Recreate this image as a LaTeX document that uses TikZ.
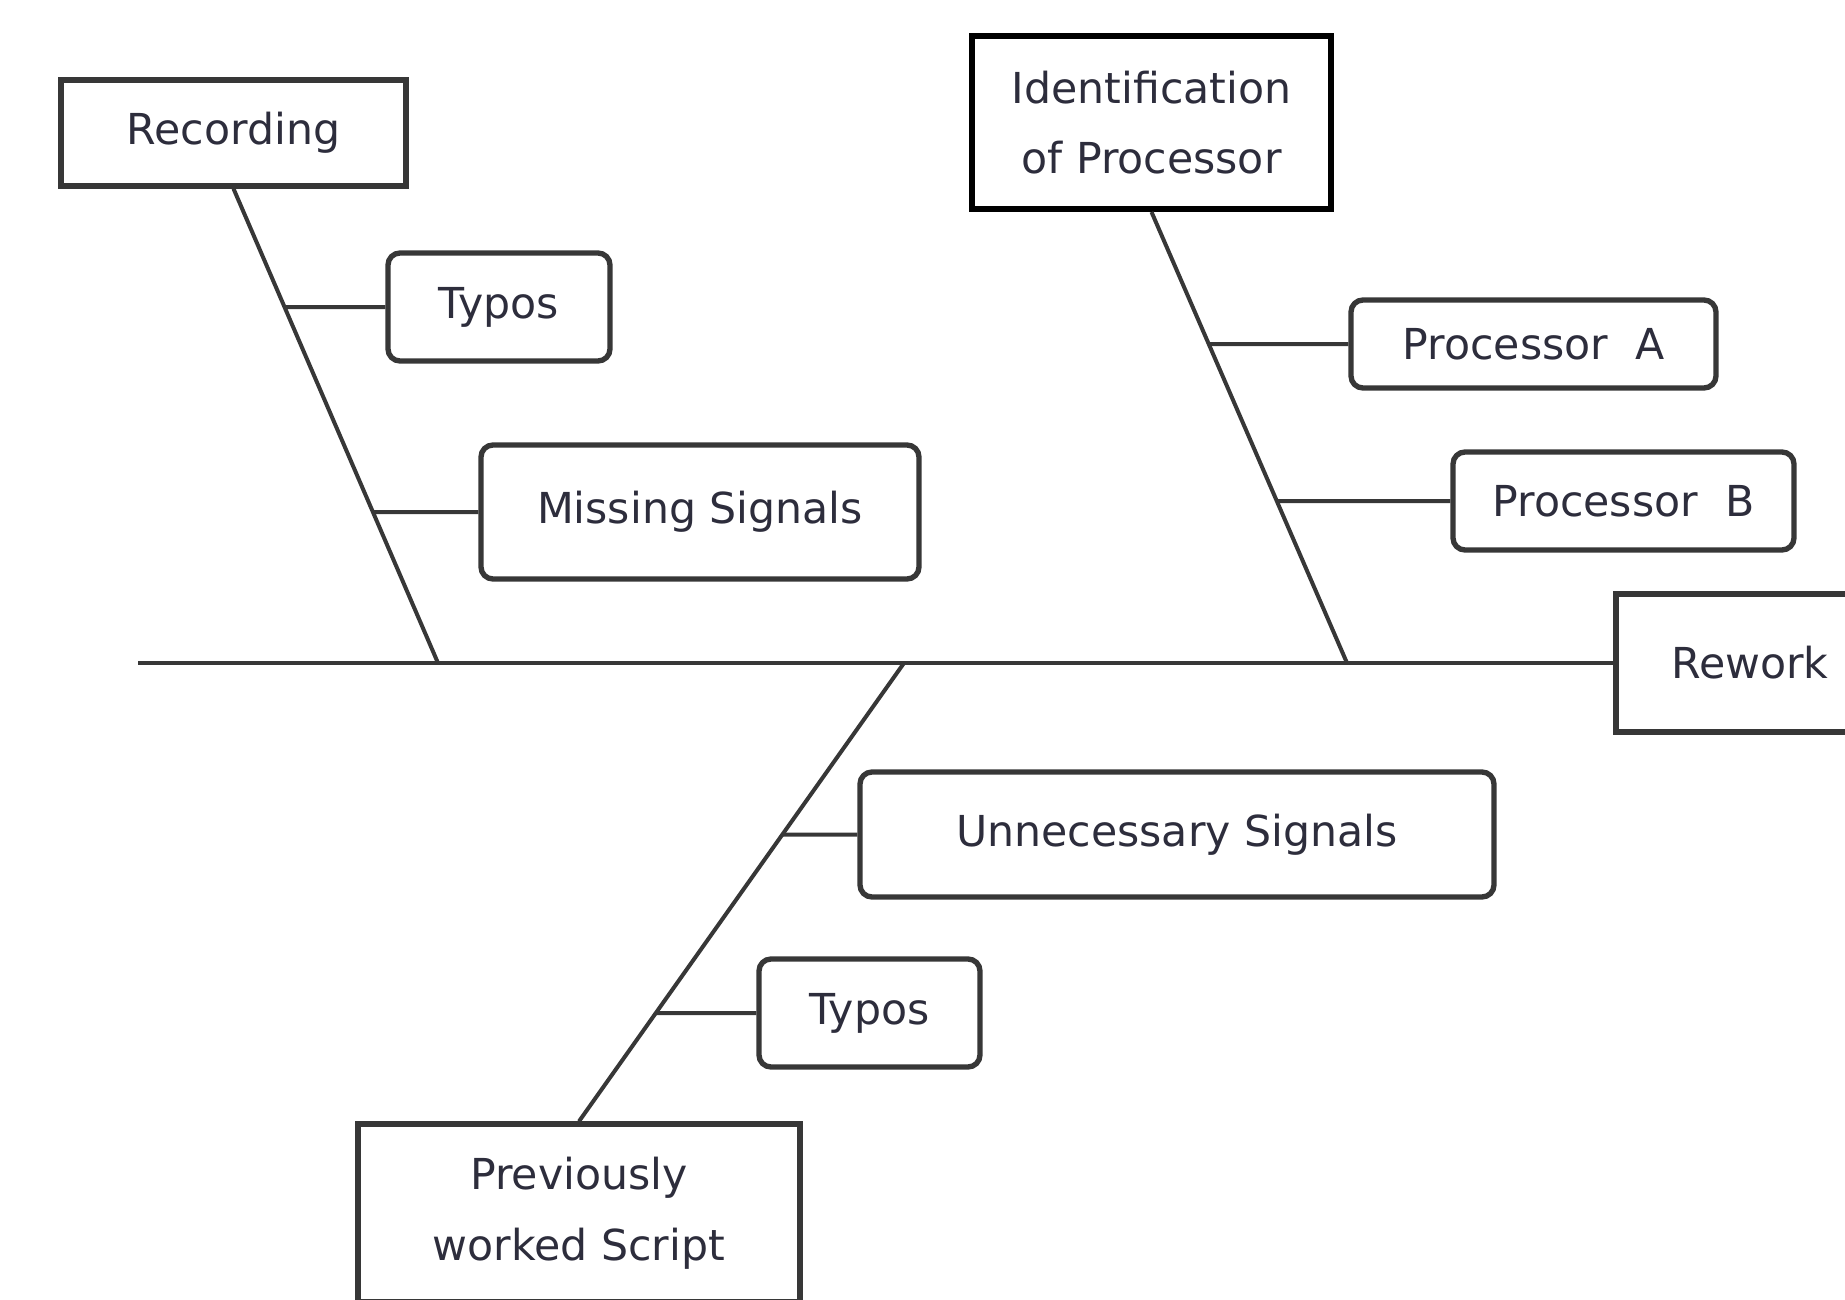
\documentclass[tikz,border=0pt]{standalone}
\usepackage{fontspec}
\setmainfont{DejaVu Sans}
\definecolor{ln}{RGB}{55,55,55}
\definecolor{tx}{RGB}{45,45,60}
\begin{document}
\begin{tikzpicture}[x=0.75pt,y=-0.75pt,
  every node/.style={font=\fontsize{32}{53}\selectfont, text=tx, align=center, inner sep=0pt},
  sharpbox/.style={draw=ln, line width=4pt, fill=white},
  roundbox/.style={draw=ln, line width=4pt, rounded corners=9pt, fill=white},
  bone/.style={draw=ln, line width=3pt}]
\useasboundingbox (0,0) rectangle (1845,1299);
% nodes
\node[sharpbox, minimum width=345*0.75pt, minimum height=106*0.75pt] (rec) at (233.5,133) {Recording};
\node[roundbox, minimum width=222*0.75pt, minimum height=108*0.75pt] (t1) at (499,307) {Typos};
\node[roundbox, minimum width=438*0.75pt, minimum height=134*0.75pt] (ms) at (700,512) {Missing Signals};
\node[sharpbox, draw=black, line width=4.5pt, minimum width=359*0.75pt, minimum height=173*0.75pt] (idp) at (1151.5,122.5) {Identification\\of Processor};
\node[roundbox, minimum width=365*0.75pt, minimum height=88*0.75pt] (pa) at (1533.5,344) {Processor\ \ A};
\node[roundbox, minimum width=341*0.75pt, minimum height=98*0.75pt] (pb) at (1623.5,501) {Processor\ \ B};
\node[sharpbox, minimum width=268*0.75pt, minimum height=138*0.75pt] (rw) at (1750,663) {Rework};
\node[roundbox, minimum width=634*0.75pt, minimum height=125*0.75pt] (us) at (1177,834.5) {Unnecessary Signals};
\node[roundbox, minimum width=221*0.75pt, minimum height=108*0.75pt] (t2) at (869.5,1013) {Typos};
\node[sharpbox, minimum width=442*0.75pt, minimum height=178*0.75pt] (pws) at (579,1213) {Previously\\worked Script};
% spine and junctions
\coordinate (sl) at (138,663);
\coordinate (jr) at (438,663);
\coordinate (ji) at (1347,663);
\coordinate (jl) at (904,663);
\draw[bone] (sl) -- (rw.west);
\draw[bone] (rec.south) -- (jr);
\draw[bone] (idp.south) -- (ji);
\draw[bone] (jl) -- (pws.north);
\draw[bone] (t1.west) -- (intersection of rec.south--jr and t1.west--t1.east);
\draw[bone] (ms.west) -- (intersection of rec.south--jr and ms.west--ms.east);
\draw[bone] (pa.west) -- (intersection of idp.south--ji and pa.west--pa.east);
\draw[bone] (pb.west) -- (intersection of idp.south--ji and pb.west--pb.east);
\draw[bone] (us.west) -- (intersection of jl--pws.north and us.west--us.east);
\draw[bone] (t2.west) -- (intersection of jl--pws.north and t2.west--t2.east);
\end{tikzpicture}
\end{document}
